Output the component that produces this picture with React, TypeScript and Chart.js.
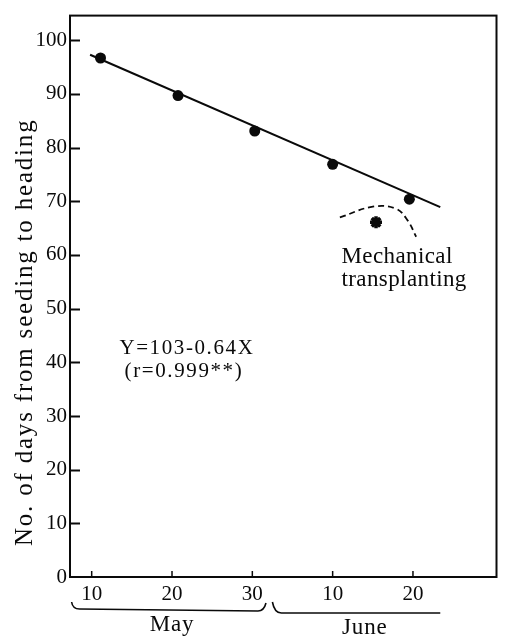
import React, { useEffect, useRef } from "react";
import { Chart, registerables } from "chart.js";

Chart.register(...registerables);

// Seeding day (X, days counted from May 1; June dates continue as 31+...) and days to heading (Y)
const seedDays = [11.1, 20.75, 30.3, 40.0, 49.55];
const daysToHeading = [96.7, 89.7, 83.1, 76.9, 70.4];

// Regression line Y = 103 - 0.64X (ends)
const regDays = [9.8, 53.4];
const regHeading = [97.3, 68.9];

// Mechanical transplanting point
const mechDays = [45.4];
const mechHeading = [66.1];

// Dashed arc around the mechanical transplanting point
const arcDays = [40.9, 45.0, 47.9, 49.35, 50.4];
const arcHeading = [67.0, 69.0, 68.6, 66.4, 63.4];

// Axes
const xTickValues = [10, 20, 30, 40, 50];
const xTickLabels = ["10", "20", "30", "10", "20"];
const yTickValues = [0, 10, 20, 30, 40, 50, 60, 70, 80, 90, 100];
const xMin = 7.3;
const xMax = 60.4;
const yMin = 0;
const yMax = 104.6;

// Texts
const yTitle = "No. of days from seeding to heading";
const equationLines = ["Y=103-0.64X", "(r=0.999**)"];
const mechLabelLines = ["Mechanical", "transplanting"];
const monthNames = ["May", "June"];
const monthCenters = [20, 44];
const monthSpans = [
  [7.5, 31.7],
  [32.5, 53.4],
];

const SERIF = '"Liberation Serif", "Times New Roman", serif';
const INK = "#0a0a0a";

const decorPlugin = {
  id: "decor",
  afterDraw(chart: any) {
    const { ctx, chartArea: a, scales } = chart;
    const x = scales.x;
    const y = scales.y;
    ctx.save();
    ctx.strokeStyle = INK;
    ctx.fillStyle = INK;
    ctx.lineCap = "butt";

    // Frame
    ctx.lineWidth = 2;
    ctx.strokeRect(a.left, a.top, a.right - a.left, a.bottom - a.top);

    // Inner y ticks
    ctx.lineWidth = 2;
    yTickValues.forEach((v) => {
      if (v === 0) return;
      const py = Math.round(y.getPixelForValue(v)) + 0.5;
      ctx.beginPath();
      ctx.moveTo(a.left, py);
      ctx.lineTo(a.left + 10, py);
      ctx.stroke();
    });

    // Inner x ticks
    ctx.lineWidth = 1.5;
    xTickValues.forEach((v) => {
      const px = x.getPixelForValue(v);
      ctx.beginPath();
      ctx.moveTo(px, a.bottom);
      ctx.lineTo(px, a.bottom - 6);
      ctx.stroke();
    });

    const setSpacing = (s: string) => {
      try {
        (ctx as any).letterSpacing = s;
      } catch (e) {}
    };

    // Y axis title (rotated)
    ctx.save();
    ctx.font = `25px ${SERIF}`;
    setSpacing("1.8px");
    ctx.translate(a.left - 45, (a.top + a.bottom) / 2 + 36);
    ctx.rotate(-Math.PI / 2);
    ctx.textAlign = "center";
    ctx.textBaseline = "middle";
    ctx.fillText(yTitle, 0, 0);
    ctx.restore();

    // Equation
    ctx.save();
    ctx.font = `21px ${SERIF}`;
    setSpacing("1.6px");
    ctx.textAlign = "left";
    ctx.textBaseline = "middle";
    ctx.fillText(equationLines[0], x.getPixelForValue(13.45), y.getPixelForValue(42.6));
    ctx.fillText(equationLines[1], x.getPixelForValue(14.1), y.getPixelForValue(38.3));
    ctx.restore();

    // Mechanical transplanting label
    ctx.save();
    ctx.font = `23px ${SERIF}`;
    setSpacing("0.4px");
    ctx.textAlign = "left";
    ctx.textBaseline = "middle";
    ctx.fillText(mechLabelLines[0], x.getPixelForValue(41.1), y.getPixelForValue(59.6));
    ctx.fillText(mechLabelLines[1], x.getPixelForValue(41.1), y.getPixelForValue(55.4));
    ctx.restore();

    // Month braces
    ctx.save();
    ctx.lineWidth = 1.6;
    const by = a.bottom + 32;
    // May brace: hooks on both ends
    {
      const l = x.getPixelForValue(monthSpans[0][0]);
      const r = x.getPixelForValue(monthSpans[0][1]);
      ctx.beginPath();
      ctx.moveTo(l, by - 7);
      ctx.quadraticCurveTo(l + 1, by, l + 8, by);
      ctx.lineTo(r - 8, by + 2);
      ctx.quadraticCurveTo(r - 2, by + 2, r, by - 6);
      ctx.stroke();
    }
    // June brace: hook on the left only
    {
      const l = x.getPixelForValue(monthSpans[1][0]);
      const r = x.getPixelForValue(monthSpans[1][1]);
      ctx.beginPath();
      ctx.moveTo(l, by - 7);
      ctx.quadraticCurveTo(l + 2, by + 4, l + 9, by + 4);
      ctx.lineTo(r, by + 4);
      ctx.stroke();
    }
    ctx.font = `23px ${SERIF}`;
    setSpacing("0.8px");
    ctx.textAlign = "center";
    ctx.textBaseline = "middle";
    ctx.fillText(monthNames[0], x.getPixelForValue(monthCenters[0]), a.bottom + 48);
    ctx.fillText(monthNames[1], x.getPixelForValue(monthCenters[1]), a.bottom + 51);
    ctx.restore();

    ctx.restore();
  },
};

export default function App() {
  const canvasRef = useRef<HTMLCanvasElement | null>(null);

  useEffect(() => {
    if (!canvasRef.current) return;
    const chart = new Chart(canvasRef.current, {
      type: "scatter",
      data: {
        datasets: [
          {
            label: "Regression",
            data: regDays.map((d, i) => ({ x: d, y: regHeading[i] })),
            showLine: true,
            borderColor: INK,
            borderWidth: 2,
            pointRadius: 0,
            fill: false,
          },
          {
            label: "Observed",
            data: seedDays.map((d, i) => ({ x: d, y: daysToHeading[i] })),
            showLine: false,
            backgroundColor: INK,
            borderColor: INK,
            pointRadius: 5.5,
            pointBorderWidth: 0,
          },
          {
            label: "Arc",
            data: arcDays.map((d, i) => ({ x: d, y: arcHeading[i] })),
            showLine: true,
            borderColor: INK,
            borderWidth: 1.8,
            borderDash: [6, 4],
            tension: 0.4,
            pointRadius: 0,
            fill: false,
          },
          {
            label: "Mechanical transplanting",
            data: mechDays.map((d, i) => ({ x: d, y: mechHeading[i] })),
            showLine: false,
            pointStyle: "star",
            pointRadius: 6,
            borderColor: INK,
            backgroundColor: INK,
            pointBorderWidth: 3.5,
          },
        ],
      },
      options: {
        animation: false,
        responsive: false,
        maintainAspectRatio: false,
        layout: { padding: { left: 0, top: 7, right: 4, bottom: 0 } },
        plugins: {
          legend: { display: false },
          tooltip: { enabled: false },
        },
        scales: {
          x: {
            type: "linear",
            position: "bottom",
            min: xMin,
            max: xMax,
            grid: { display: false, drawTicks: false },
            border: { display: false },
            afterBuildTicks: (scale: any) => {
              scale.ticks = xTickValues.map((v) => ({ value: v }));
            },
            afterFit: (scale: any) => {
              scale.height = 59;
            },
            ticks: {
              padding: 5,
              autoSkip: false,
              maxRotation: 0,
              color: INK,
              font: { family: SERIF, size: 21 },
              callback: (v: any) => {
                const i = xTickValues.indexOf(Number(v));
                return i >= 0 ? xTickLabels[i] : "";
              },
            },
          },
          y: {
            type: "linear",
            position: "left",
            min: yMin,
            max: yMax,
            grid: { display: false, drawTicks: false },
            border: { display: false },
            afterBuildTicks: (scale: any) => {
              scale.ticks = yTickValues.map((v) => ({ value: v }));
            },
            afterFit: (scale: any) => {
              scale.width = 70;
            },
            ticks: {
              padding: 3,
              color: INK,
              font: { family: SERIF, size: 21 },
              callback: (v: any) => String(v),
            },
          },
        },
      },
      plugins: [decorPlugin],
    });
    return () => chart.destroy();
  }, []);

  return (
    <div style={{ position: "absolute", left: 0, top: 0, width: 506, height: 636, background: "#fff" }}>
      <canvas ref={canvasRef} width={506} height={636} style={{ width: 506, height: 636, display: "block" }} />
    </div>
  );
}
